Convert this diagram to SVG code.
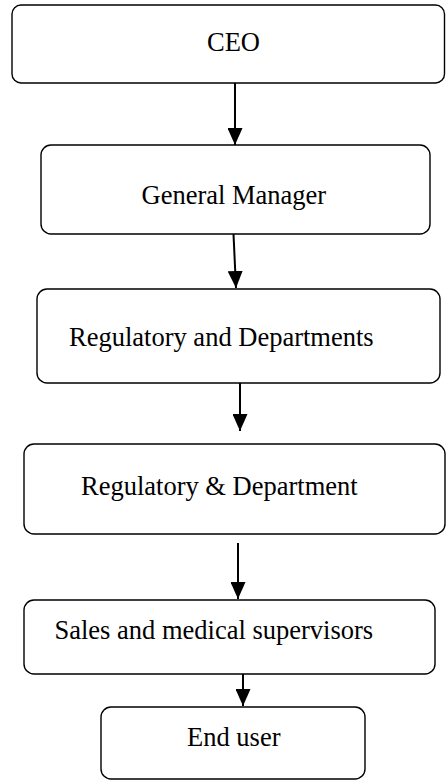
<svg xmlns="http://www.w3.org/2000/svg" width="446" height="782" viewBox="0 0 446 782">
<defs>
<marker id="ah" markerWidth="17" markerHeight="15" refX="17" refY="7.5" orient="auto" markerUnits="userSpaceOnUse" viewBox="0 0 17 15">
<path d="M0,0 L17,7.5 L0,15 Z" fill="#000"/>
</marker>
<style>
.box{fill:#fff;stroke:#000;stroke-width:1.4}
.lbl{font-family:"Liberation Serif","Times New Roman",serif;font-size:26.5px;fill:#000}
.con{stroke:#000;stroke-width:2;fill:none;marker-end:url(#ah)}
</style>
</defs>
<rect width="446" height="782" fill="#fff"/>
<g id="connectors">
<line class="con" x1="235" y1="83" x2="235" y2="145"/>
<line class="con" x1="233.5" y1="234" x2="236" y2="288"/>
<line class="con" x1="240" y1="383" x2="240" y2="431"/>
<line class="con" x1="238" y1="543" x2="238" y2="599"/>
<line class="con" x1="243" y1="674" x2="243" y2="706"/>
</g>
<g id="ceo">
<rect class="box" x="12" y="5" width="432.5" height="78" rx="9"/>
<text class="lbl" x="207" y="51">CEO</text>
</g>
<g id="gm">
<rect class="box" x="41" y="145" width="389" height="89" rx="10"/>
<text class="lbl" x="141.5" y="204">General Manager</text>
</g>
<g id="regdepts">
<rect class="box" x="37" y="289" width="403" height="94" rx="10"/>
<text class="lbl" x="69" y="346">Regulatory and Departments</text>
</g>
<g id="regdept">
<rect class="box" x="24" y="444" width="421" height="90" rx="10"/>
<text class="lbl" x="81" y="495">Regulatory &amp; Department</text>
</g>
<g id="sales">
<rect class="box" x="24" y="600" width="411" height="74" rx="10"/>
<text class="lbl" x="54.5" y="639">Sales and medical supervisors</text>
</g>
<g id="enduser">
<rect class="box" x="101" y="707" width="264" height="72" rx="10"/>
<text class="lbl" x="187" y="746">End user</text>
</g>
</svg>
